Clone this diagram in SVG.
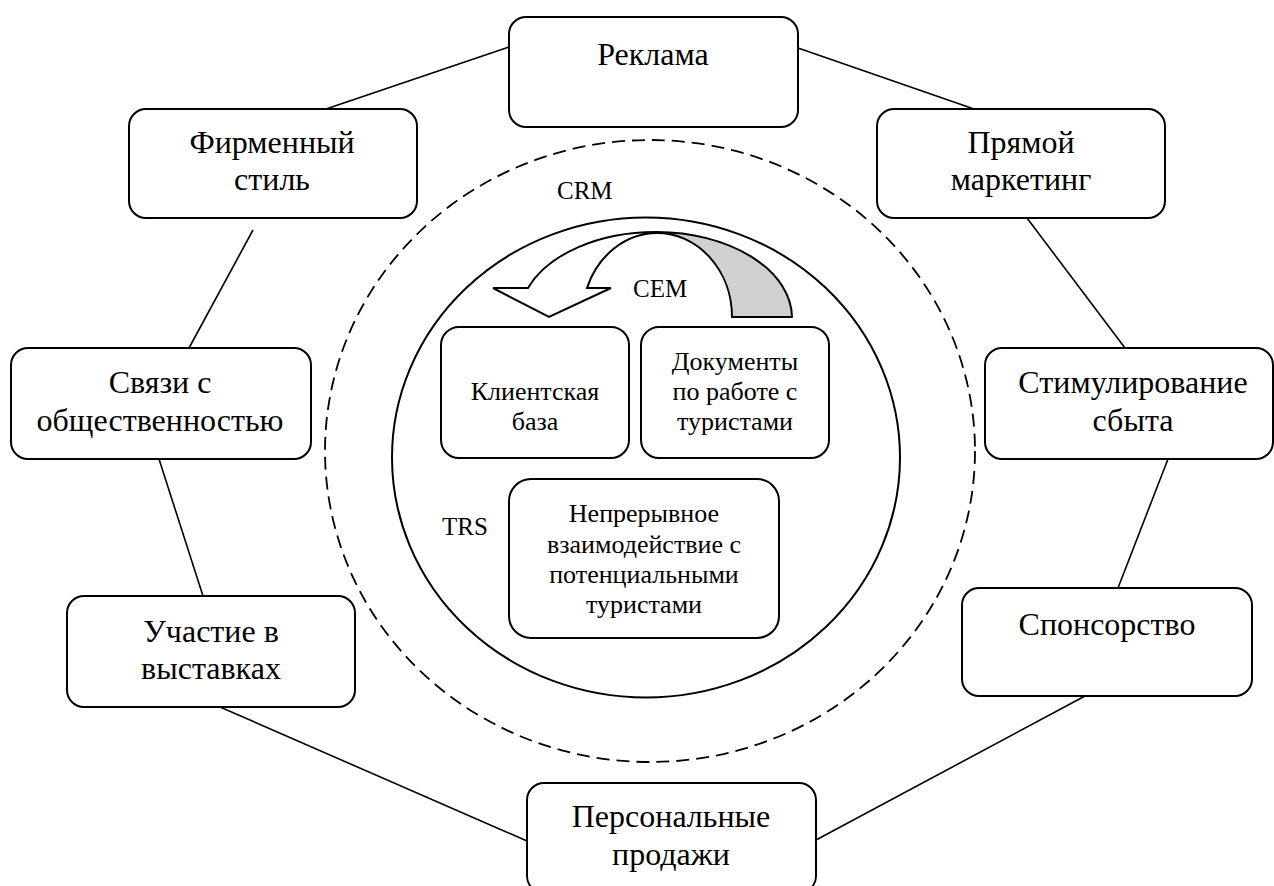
<svg xmlns="http://www.w3.org/2000/svg" width="1274" height="886" viewBox="0 0 1274 886">
<style>
.box{fill:#fff;stroke:#000;stroke-width:2}
.t{font-family:"Liberation Serif","Times New Roman",serif;font-size:32px;fill:#000;text-anchor:middle}
.ti{font-family:"Liberation Serif","Times New Roman",serif;font-size:26px;fill:#000;text-anchor:middle}
.lab{font-family:"Liberation Serif","Times New Roman",serif;font-size:25px;fill:#000}
.conn line{stroke:#000;stroke-width:1.6}
</style>
<rect width="1274" height="886" fill="#fff"/>
<g id="connectors" class="conn">
<line x1="326" y1="109" x2="509" y2="47"/>
<line x1="798" y1="48" x2="974" y2="109"/>
<line x1="253" y1="230" x2="189" y2="348"/>
<line x1="1027" y1="218" x2="1125" y2="348"/>
<line x1="159" y1="459" x2="203" y2="596"/>
<line x1="1168" y1="459" x2="1118" y2="588"/>
<line x1="220" y1="707" x2="527" y2="841"/>
<line x1="1085" y1="696" x2="816" y2="840"/>
</g>
<g id="crm">
<ellipse cx="650" cy="451" rx="325" ry="311" fill="none" stroke="#000" stroke-width="1.8" stroke-dasharray="13 7"/>
<text class="lab" x="557" y="199">CRM</text>
</g>
<g id="cem">
<ellipse cx="646" cy="457.5" rx="254" ry="240" fill="none" stroke="#000" stroke-width="2"/>
<path d="M657 232 A136 86 0 0 1 792 317 L732 317 A75 84 0 0 0 657 233 Z" fill="#d0d0d0" stroke="#000" stroke-width="2" stroke-linejoin="round"/>
<path d="M657 232 A136 86 0 0 0 528 288 L493 288 L549 317 L611 288 L587 288 A75 84 0 0 1 657 233 Z" fill="#fff" stroke="#000" stroke-width="2" stroke-linejoin="miter"/>
<text class="lab" x="633" y="297">CEM</text>
</g>
<g id="trs"><text class="lab" x="442" y="535">TRS</text></g>
<g id="klient"><rect class="box" x="441" y="327" width="188" height="131" rx="18"/>
<text class="ti" x="535" y="400">Клиентская</text><text class="ti" x="535" y="430">база</text></g>
<g id="docs"><rect class="box" x="641" y="327" width="188" height="131" rx="18"/>
<text class="ti" x="735" y="370">Документы</text><text class="ti" x="735" y="400">по работе с</text><text class="ti" x="735" y="430">туристами</text></g>
<g id="interact"><rect class="box" x="509" y="479" width="270" height="159" rx="22"/>
<text class="ti" x="644" y="522">Непрерывное</text><text class="ti" x="644" y="553">взаимодействие с</text><text class="ti" x="644" y="583">потенциальными</text><text class="ti" x="644" y="613">туристами</text></g>
<g id="reklama"><rect class="box" x="509" y="17" width="289" height="110" rx="17"/>
<text class="t" x="653" y="65">Реклама</text></g>
<g id="firm"><rect class="box" x="129" y="109" width="288" height="109" rx="17"/>
<text class="t" x="272" y="153">Фирменный</text><text class="t" x="272" y="190">стиль</text></g>
<g id="direct"><rect class="box" x="877" y="109" width="288" height="109" rx="17"/>
<text class="t" x="1021" y="153">Прямой</text><text class="t" x="1021" y="190">маркетинг</text></g>
<g id="pr"><rect class="box" x="11" y="348" width="300" height="111" rx="17"/>
<text class="t" x="160" y="393">Связи с</text><text class="t" x="160" y="431">общественностью</text></g>
<g id="promo"><rect class="box" x="985" y="348" width="288" height="111" rx="17"/>
<text class="t" x="1133" y="393">Стимулирование</text><text class="t" x="1133" y="431">сбыта</text></g>
<g id="expo"><rect class="box" x="67" y="596" width="288" height="111" rx="17"/>
<text class="t" x="211" y="642">Участие в</text><text class="t" x="211" y="679">выставках</text></g>
<g id="sponsor"><rect class="box" x="962" y="588" width="290" height="108" rx="17"/>
<text class="t" x="1107" y="635">Спонсорство</text></g>
<g id="personal"><rect class="box" x="527" y="783" width="289" height="110" rx="17"/>
<text class="t" x="671" y="827">Персональные</text><text class="t" x="671" y="865">продажи</text></g>
</svg>
